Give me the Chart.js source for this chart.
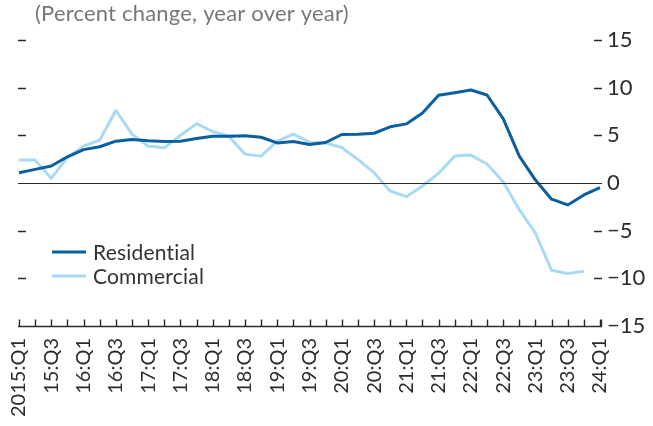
<!DOCTYPE html>
<html>
<head>
<meta charset="utf-8">
<script src="https://cdn.jsdelivr.net/npm/chart.js@4.4.1/dist/chart.umd.min.js"></script>
<style>
  html, body { margin: 0; padding: 0; background: #fff; }
  #wrap { width: 653px; height: 426px; position: relative; }
</style>
</head>
<body>
<div id="wrap"><canvas id="loans"></canvas></div>
<script>
const quarters = [
  "2015:Q1", "15:Q2", "15:Q3", "15:Q4",
  "16:Q1", "16:Q2", "16:Q3", "16:Q4",
  "17:Q1", "17:Q2", "17:Q3", "17:Q4",
  "18:Q1", "18:Q2", "18:Q3", "18:Q4",
  "19:Q1", "19:Q2", "19:Q3", "19:Q4",
  "20:Q1", "20:Q2", "20:Q3", "20:Q4",
  "21:Q1", "21:Q2", "21:Q3", "21:Q4",
  "22:Q1", "22:Q2", "22:Q3", "22:Q4",
  "23:Q1", "23:Q2", "23:Q3", "23:Q4",
  "24:Q1"
];

const residential = [
  1.08, 1.43, 1.78, 2.75, 3.5, 3.8, 4.39, 4.56, 4.42, 4.35, 4.38, 4.67,
  4.91, 4.91, 4.95, 4.8, 4.2, 4.35, 4.04, 4.25, 5.09, 5.12, 5.22, 5.89,
  6.2, 7.35, 9.2, 9.47, 9.75, 9.23, 6.76, 2.82, 0.31, -1.7, -2.3, -1.25,
  -0.49
];

const commercial = [
  2.4, 2.4, 0.49, 2.68, 3.87, 4.49, 7.63, 5.12, 3.87, 3.69, 4.98, 6.23,
  5.4, 4.91, 3.03, 2.82, 4.39, 5.12, 4.28, 4.2, 3.73, 2.47, 1.08, -0.84,
  -1.43, -0.31, 1.01, 2.82, 2.93, 1.99, 0.14, -2.8, -5.26, -9.16, -9.5,
  -9.26, null
];

const yTicks = [-15, -10, -5, 0, 5, 10, 15];
const subtitle = "(Percent change, year over year)";

const FONT = "Lato, 'Noto Sans', sans-serif";
const AXIS_INK = "#2b2b2b";

// zero line, inward tick dashes, bottom axis with quarter marks, legend and subtitle
const decorations = {
  id: 'decorations',
  afterDatasetsDraw(chart) {
    const ctx = chart.ctx;
    const area = chart.chartArea;
    const x = chart.scales.x;
    const y = chart.scales.y;
    const left = area.left - 1;
    const right = area.right + 2;
    ctx.save();
    ctx.strokeStyle = AXIS_INK;
    ctx.lineCap = 'butt';

    // zero line
    ctx.lineWidth = 1.2;
    const y0 = Math.round(y.getPixelForValue(0)) + 0.5;
    ctx.beginPath();
    ctx.moveTo(left, y0);
    ctx.lineTo(right, y0);
    ctx.stroke();

    // short dashes on both sides
    ctx.lineWidth = 1.6;
    for (const v of yTicks) {
      if (v === 0 || v === -15) continue;
      const py = Math.round(y.getPixelForValue(v)) + 0.5;
      ctx.beginPath();
      ctx.moveTo(left, py);
      ctx.lineTo(left + 8, py);
      ctx.moveTo(right - 8, py);
      ctx.lineTo(right, py);
      ctx.stroke();
    }

    // bottom axis and one mark per quarter
    const yb = Math.round(y.getPixelForValue(-15)) + 0.5;
    ctx.lineWidth = 1.4;
    ctx.beginPath();
    ctx.moveTo(left, yb);
    ctx.lineTo(right, yb);
    for (let i = 0; i < quarters.length; i++) {
      const px = Math.round(x.getPixelForValue(i)) + 0.5;
      ctx.moveTo(px, yb);
      ctx.lineTo(px, yb - 7);
    }
    ctx.moveTo(right - 0.5, yb);
    ctx.lineTo(right - 0.5, yb - 7);
    ctx.stroke();

    // legend (small letter spacing keeps "ti" from joining)
    ctx.font = "21px " + FONT;
    ctx.letterSpacing = "0.2px";
    ctx.textBaseline = 'middle';
    ctx.textAlign = 'left';
    chart.data.datasets.forEach((ds, i) => {
      const ly = 252 + i * 24;
      ctx.strokeStyle = ds.borderColor;
      ctx.lineWidth = 3;
      ctx.beginPath();
      ctx.moveTo(52, ly);
      ctx.lineTo(86, ly);
      ctx.stroke();
      ctx.fillStyle = "#333";
      ctx.fillText(ds.label, 93, ly + 1);
    });

    // subtitle
    ctx.fillStyle = "#76777a";
    ctx.font = "22px " + FONT;
    ctx.textBaseline = 'alphabetic';
    ctx.fillText(subtitle, 35, 21);
    ctx.restore();
  }
};

new Chart(document.getElementById('loans'), {
  type: 'line',
  data: {
    labels: quarters,
    datasets: [
      {
        label: 'Residential',
        data: residential,
        borderColor: '#0b5f9e',
        borderWidth: 3,
        pointRadius: 0,
        tension: 0,
        borderJoinStyle: 'round',
        fill: false
      },
      {
        label: 'Commercial',
        data: commercial,
        borderColor: '#a8daf3',
        borderWidth: 3,
        pointRadius: 0,
        tension: 0,
        borderJoinStyle: 'round',
        fill: false
      }
    ]
  },
  options: {
    responsive: true,
    maintainAspectRatio: false,
    animation: false,
    layout: { padding: { left: 19, top: 40, right: 0, bottom: 0 } },
    plugins: {
      legend: { display: false },
      title: { display: false },
      tooltip: { enabled: false }
    },
    scales: {
      x: {
        type: 'category',
        offset: false,
        grid: { display: false, drawTicks: false },
        border: { display: false },
        afterFit(scale) { scale.height = 100; },
        ticks: {
          autoSkip: false,
          minRotation: 90,
          maxRotation: 90,
          padding: 12,
          color: AXIS_INK,
          font: { family: FONT, size: 20 },
          callback(value, index) {
            return index % 2 === 0 ? quarters[index] : '';
          }
        }
      },
      y: {
        position: 'right',
        min: -15,
        max: 15,
        grid: { display: false, drawTicks: false },
        border: { display: false },
        afterFit(scale) { scale.width = 53; },
        afterBuildTicks(scale) {
          scale.ticks = yTicks.map(v => ({ value: v }));
        },
        ticks: {
          padding: 7,
          color: AXIS_INK,
          font: { family: FONT, size: 22 },
          callback(value) {
            return value < 0 ? '\u2212' + Math.abs(value) : String(value);
          }
        }
      }
    }
  },
  plugins: [decorations]
});
</script>
</body>
</html>
